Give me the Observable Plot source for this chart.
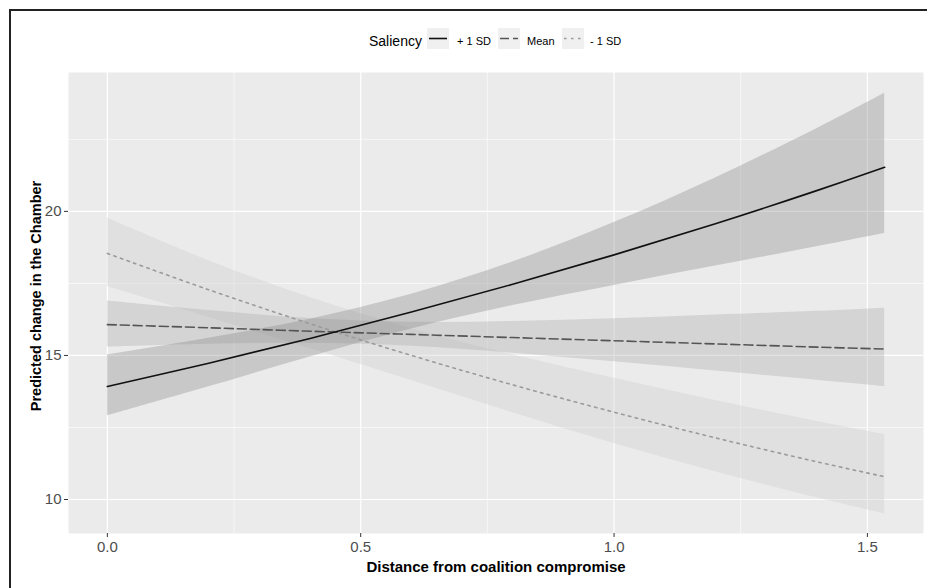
<!DOCTYPE html>
<html>
<head>
<meta charset="utf-8">
<script src="https://cdn.jsdelivr.net/npm/d3@7"></script>
<script src="https://cdn.jsdelivr.net/npm/@observablehq/plot@0.6"></script>
<style>
  html, body { margin: 0; padding: 0; background: #fff; }
  #wrap { position: relative; width: 927px; height: 588px; overflow: hidden; font-family: "Liberation Sans", Arial, sans-serif; }
  #frame { position: absolute; left: 9px; top: 9px; width: 1000px; height: 1000px; border-left: 2px solid #222; border-top: 2px solid #222; pointer-events: none; }
  #legend { position: absolute; left: 0; top: 0; width: 927px; height: 60px; }
  #chart { position: absolute; left: 0; top: 60px; }
  .lg-title { position: absolute; top: 33px; font-size: 14px; color: #000; }
  .lg-lab { position: absolute; top: 35px; font-size: 11px; color: #000; }
  .lg-key { position: absolute; top: 28px; }
</style>
</head>
<body>
<div id="wrap">
  <div id="legend"></div>
  <div id="chart"></div>
  <div id="frame"></div>
</div>
<script>
// Data
const xValues = [0, 0.2, 0.4, 0.6, 0.8, 1.0, 1.2, 1.4, 1.534];
const seriesNames = ["+ 1 SD", "Mean", "- 1 SD"];
const plusFit  = [13.92, 14.73, 15.59, 16.51, 17.47, 18.49, 19.57, 20.72, 21.53];
const plusLow  = [12.90, 13.91, 14.95, 15.92, 16.73, 17.43, 18.10, 18.77, 19.23];
const plusHigh = [15.02, 15.60, 16.26, 17.12, 18.24, 19.61, 21.16, 22.87, 24.10];
const meanFit  = [16.07, 15.96, 15.84, 15.73, 15.62, 15.51, 15.40, 15.29, 15.22];
const meanLow  = [15.29, 15.39, 15.42, 15.32, 15.08, 14.78, 14.46, 14.14, 13.92];
const meanHigh = [16.89, 16.56, 16.28, 16.15, 16.18, 16.27, 16.40, 16.53, 16.64];
const minusFit  = [18.54, 17.28, 16.10, 15.00, 13.98, 13.03, 12.14, 11.31, 10.79];
const minusLow  = [17.39, 16.32, 15.24, 14.13, 13.01, 11.94, 10.96, 10.06, 9.50];
const minusHigh = [19.77, 18.29, 17.01, 15.93, 15.02, 14.21, 13.44, 12.71, 12.26];
const xTicks = [0, 0.5, 1.0, 1.5];
const xTickLabels = ["0.0", "0.5", "1.0", "1.5"];
const xMinor = [0.25, 0.75, 1.25];
const yTicks = [10, 15, 20];
const yMinor = [12.5, 17.5, 22.5];

const mk = (fit, lo, hi, s) => xValues.map((x, i) => ({x, fit: fit[i], lo: lo[i], hi: hi[i], s}));
const plusData = mk(plusFit, plusLow, plusHigh, seriesNames[0]);
const meanData = mk(meanFit, meanLow, meanHigh, seriesNames[1]);
const minusData = mk(minusFit, minusLow, minusHigh, seriesNames[2]);

const style = {
  [seriesNames[0]]: {fill: "#888888", stroke: "#111111", dash: null, width: 1.6},
  [seriesNames[1]]: {fill: "#aaaaaa", stroke: "#555555", dash: "9,4", width: 1.6},
  [seriesNames[2]]: {fill: "#cccccc", stroke: "#9a9a9a", dash: "2.5,4.5", width: 1.6}
};

const ribbon = (d) => Plot.areaY(d, {x: "x", y1: "lo", y2: "hi", curve: "catmull-rom", fill: style[d[0].s].fill, fillOpacity: 0.35});
const line = (d) => Plot.lineY(d, {x: "x", y: "fit", curve: "catmull-rom", stroke: style[d[0].s].stroke, strokeWidth: style[d[0].s].width, strokeDasharray: style[d[0].s].dash});

const chart = Plot.plot({
  width: 927,
  height: 528,
  marginTop: 12,
  marginBottom: 55,
  marginLeft: 68,
  marginRight: 4,
  style: {fontFamily: "Liberation Sans, Arial, sans-serif", background: "transparent"},
  x: {domain: [-0.0767, 1.6107]},
  y: {domain: [8.82, 24.82]},
  marks: [
    Plot.frame({fill: "#ebebeb", stroke: null}),
    Plot.gridX(xMinor, {stroke: "#ffffff", strokeOpacity: 1, strokeWidth: 0.6}),
    Plot.gridY(yMinor, {stroke: "#ffffff", strokeOpacity: 1, strokeWidth: 0.6}),
    Plot.gridX(xTicks, {stroke: "#ffffff", strokeOpacity: 1, strokeWidth: 1.2}),
    Plot.gridY(yTicks, {stroke: "#ffffff", strokeOpacity: 1, strokeWidth: 1.2}),
    ribbon(minusData),
    ribbon(meanData),
    ribbon(plusData),
    line(minusData),
    line(meanData),
    line(plusData),
    Plot.axisX(xTicks, {tickSize: 4, tickPadding: 4, stroke: "#333", fill: "#4d4d4d", fontSize: 15,
      tickFormat: (d, i) => xTickLabels[i], label: null}),
    Plot.axisY(yTicks, {tickSize: 4, tickPadding: 3, stroke: "#333", fill: "#4d4d4d", fontSize: 15, label: null}),
    Plot.text(["Distance from coalition compromise"], {frameAnchor: "bottom", lineAnchor: "middle", dy: 34, fontSize: 15, fontWeight: "bold", fill: "#000"}),
    Plot.text(["Predicted change in the Chamber"], {frameAnchor: "left", textAnchor: "middle", lineAnchor: "middle", dx: -32, dy: -7, rotate: -90, fontSize: 14.5, fontWeight: "bold", fill: "#000"})
  ]
});
document.getElementById("chart").appendChild(chart);

// Legend
const legend = document.getElementById("legend");
const addText = (cls, txt, left) => {
  const el = document.createElement("div");
  el.className = cls; el.textContent = txt; el.style.left = left + "px";
  legend.appendChild(el);
};
addText("lg-title", "Saliency", 369);
const keyXs = [427, 498, 562];
const labXs = [457, 527, 590];
seriesNames.forEach((s, i) => {
  const svg = d3.create("svg").attr("class", "lg-key").attr("width", 22).attr("height", 21)
    .style("left", keyXs[i] + "px");
  svg.append("rect").attr("width", 22).attr("height", 21).attr("fill", "#f0f0f0");
  svg.append("line").attr("x1", 2).attr("x2", 20).attr("y1", 10.5).attr("y2", 10.5)
    .attr("stroke", style[s].stroke).attr("stroke-width", 1.6)
    .attr("stroke-dasharray", style[s].dash);
  legend.appendChild(svg.node());
  addText("lg-lab", s, labXs[i]);
});
</script>
</body>
</html>
